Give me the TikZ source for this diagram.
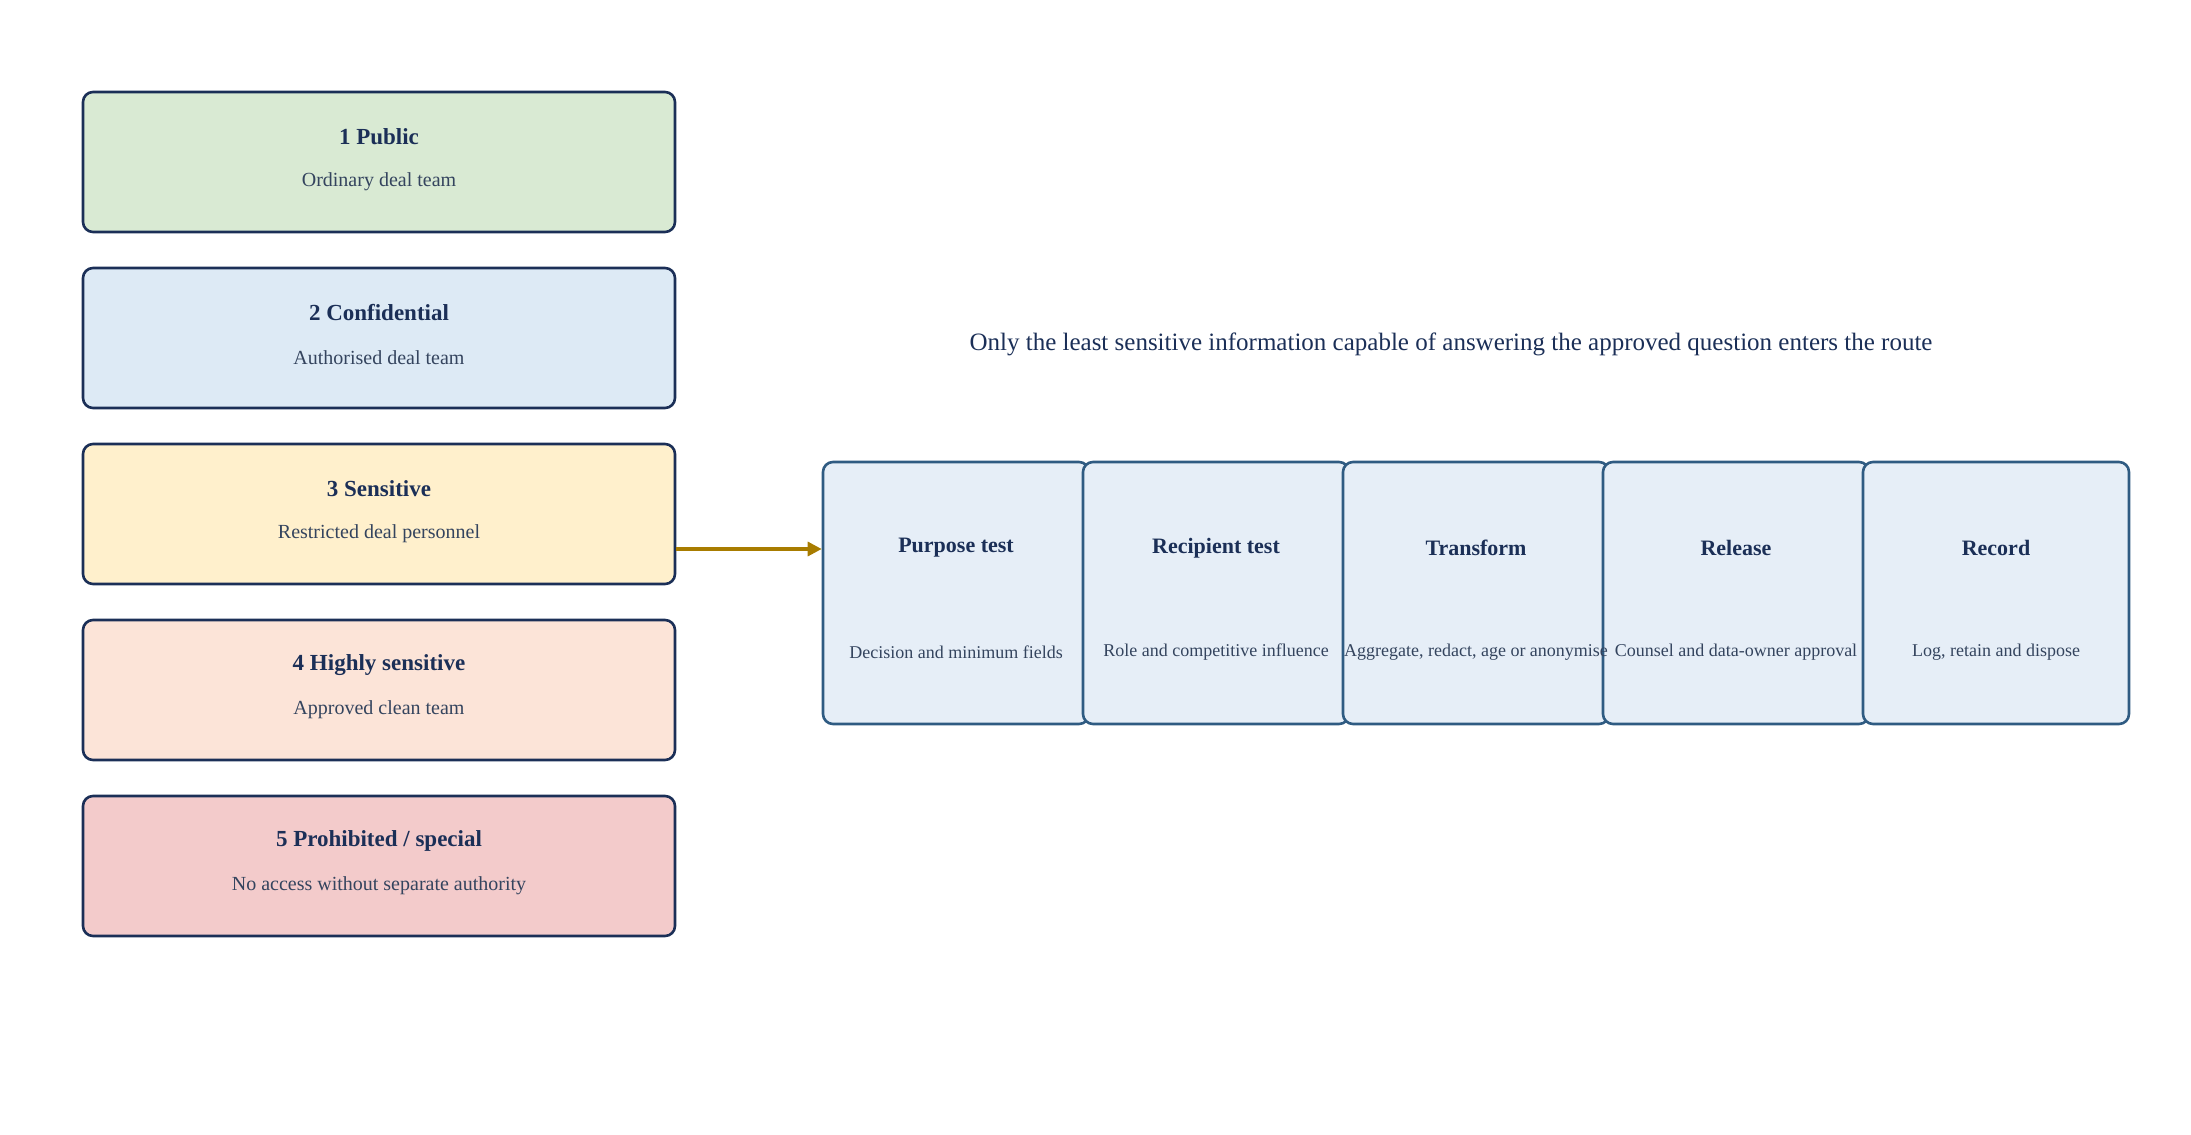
\documentclass[tikz,border=0pt]{standalone}
\usepackage{fontspec}
\setmainfont{Liberation Serif}
\usetikzlibrary{arrows.meta,backgrounds}
\definecolor{navy}{HTML}{1B2F57}
\definecolor{sub}{HTML}{34445E}
\definecolor{pborder}{HTML}{2F5B82}
\definecolor{pfill}{HTML}{E6EEF7}
\definecolor{gold}{HTML}{A87C00}
\definecolor{fA}{HTML}{D9EAD3}
\definecolor{fB}{HTML}{DDEAF5}
\definecolor{fC}{HTML}{FFF0CC}
\definecolor{fD}{HTML}{FCE4D8}
\definecolor{fE}{HTML}{F3CBCB}
\begin{document}
\begin{tikzpicture}[x=0.5pt,y=-0.5pt,
  tier/.style={draw=navy,line width=1.3pt,rounded corners=5pt,minimum width=296pt,minimum height=70pt,inner sep=0pt},
  pstep/.style={draw=pborder,fill=pfill,line width=1.3pt,rounded corners=5pt,minimum width=133pt,minimum height=131pt,inner sep=0pt},
  ttl/.style={text=navy,font=\bfseries\fontsize{11.5}{13}\selectfont},
  stl/.style={text=sub,font=\fontsize{10}{12}\selectfont},
  ptl/.style={text=navy,font=\bfseries\fontsize{11}{13}\selectfont},
  psl/.style={text=sub,font=\fontsize{9}{11}\selectfont},
  arr/.style={draw=gold,line width=1.6pt,-{Triangle[length=7pt,width=7pt]}}]
\useasboundingbox (0,0) rectangle (2191,1135);
\foreach \i/\f/\t/\s in {1/fA/1 Public/Ordinary deal team,2/fB/2 Confidential/Authorised deal team,3/fC/3 Sensitive/Restricted deal personnel,4/fD/4 Highly sensitive/Approved clean team,5/fE/5 Prohibited \slash{} special/No access without separate authority}{
  \node[tier,fill=\f] (t\i) at (379,{162+176*(\i-1)}) {};
  \node[ttl] (tt\i) at (379,{137+176*(\i-1)}) {\t};
  \node[stl] (ts\i) at (379,{182+176*(\i-1)}) {\s};
}
\node[text=navy,font=\fontsize{12.5}{15}\selectfont] (cap) at (1451,344) {Only the least sensitive information capable of answering the approved question enters the route};
\foreach \i in {1,...,5}{
  \node[pstep] (p\i) at ({956+260*(\i-1)},593) {};
}
\foreach \i/\t/\s in {1/Purpose test/Decision and minimum fields,2/Recipient test/Role and competitive influence,3/Transform/{Aggregate, redact, age or anonymise},4/Release/Counsel and data-owner approval,5/Record/{Log, retain and dispose}}{
  \node[ptl] (pt\i) at ({956+260*(\i-1)},548) {\t};
  \node[psl] (ps\i) at ({956+260*(\i-1)},652) {\s};
}
\begin{scope}[on background layer]
\foreach \a/\b in {1/2,2/3,3/4,4/5}{
  \coordinate (s\a) at ([xshift=-8pt]p\a.east);
  \draw[arr,line width=1pt] (s\a) -- ([xshift=3pt]p\b.west);
}
\end{scope}
\coordinate (in) at (837,549);
\draw[arr] (t3.east |- in) -- (p1.west |- in);
\end{tikzpicture}
\end{document}
